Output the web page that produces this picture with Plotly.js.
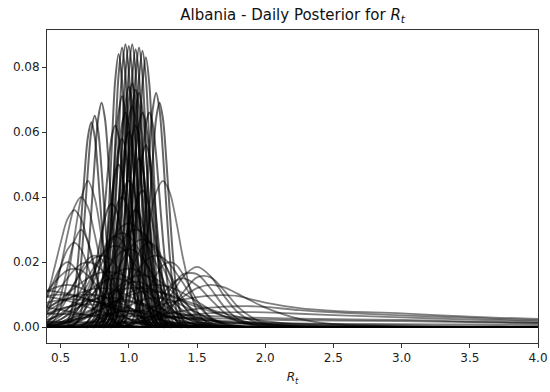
<!DOCTYPE html>
<html>
<head>
<meta charset="utf-8">
<script src="https://cdn.plot.ly/plotly-3.0.1.min.js"></script>
<style>
  body { margin: 0; background: #fff; }
  #plot { width: 550px; height: 392px; }
</style>
</head>
<body>
<div id="plot"></div>
<script>
// fine R_t grid for the narrow posteriors (0.55 .. 1.45, step 0.025)
var rtFine = [0.55,0.575,0.6,0.625,0.65,0.675,0.7,0.725,0.75,0.775,
              0.8,0.825,0.85,0.875,0.9,0.925,0.95,0.975,1.0,1.025,
              1.05,1.075,1.1,1.125,1.15,1.175,1.2,1.225,1.25,1.275,
              1.3,1.325,1.35,1.375,1.4,1.425,1.45];

// coarse R_t grid for the wide posteriors
var rt = [0.3,0.4,0.45,0.5,0.55,0.6,0.65,0.7,0.75,0.8,
          0.85,0.9,0.95,1.0,1.05,1.1,1.15,1.2,1.25,1.3,
          1.35,1.4,1.5,1.6,1.7,1.8,1.9,2.0,2.25,2.5,
          3.0,3.5,4.0,4.3];

// tallest posteriors (~0.085) on rtFine
var tall = [
  [0,0,0,0,0,0,0,.0001,.0005,.002, .0064,.0161,.0332,.0556,.0758,.084,.0758,.0556,.0332,.0161, .0064,.002,.0005,.0001,0,0,0,0,0,0, 0,0,0,0,0,0,0],
  [0,0,0,0,0,0,0,0,.0001,.0005, .0021,.0065,.0165,.034,.0569,.0776,.086,.0776,.0569,.034, .0165,.0065,.0021,.0005,.0001,0,0,0,0,0, 0,0,0,0,0,0,0],
  [0,0,0,0,0,0,0,0,0,.0001, .0005,.0021,.0066,.0167,.0344,.0576,.0785,.087,.0785,.0576, .0344,.0167,.0066,.0021,.0005,.0001,0,0,0,0, 0,0,0,0,0,0,0],
  [0,0,0,0,0,0,0,0,0,0, .0001,.0005,.0021,.0066,.0166,.0342,.0573,.078,.0865,.078, .0573,.0342,.0166,.0066,.0021,.0005,.0001,0,0,0, 0,0,0,0,0,0,0],
  [0,0,0,0,0,0,0,0,0,0, 0,.0001,.0005,.0021,.0066,.0167,.0344,.0576,.0785,.087, .0785,.0576,.0344,.0167,.0066,.0021,.0005,.0001,0,0, 0,0,0,0,0,0,0],
  [0,0,0,0,0,0,0,0,0,0, 0,0,.0001,.0005,.0021,.0065,.0164,.0338,.0566,.0771, .0855,.0771,.0566,.0338,.0164,.0065,.0021,.0005,.0001,0, 0,0,0,0,0,0,0],
  [0,0,0,0,0,0,0,0,0,0, 0,0,0,.0001,.0005,.0021,.0065,.0165,.034,.0569, .0776,.086,.0776,.0569,.034,.0165,.0065,.0021,.0005,.0001, 0,0,0,0,0,0,0],
  [0,0,0,0,0,0,0,0,0,0, 0,0,0,0,.0001,.0005,.002,.0065,.0163,.0336, .0563,.0767,.085,.0767,.0563,.0336,.0163,.0065,.002,.0005, .0001,0,0,0,0,0,0],
  [0,0,0,0,0,0,0,0,0,0, 0,0,0,0,0,.0001,.0005,.002,.0063,.0159, .0328,.0549,.0749,.083,.0749,.0549,.0328,.0159,.0063,.002, .0005,.0001,0,0,0,0,0]
];

// second level (~0.073) on rtFine
var upper = [
  [0,0,0,0,0,0,0,0,0,.0002, .0007,.002,.0052,.0117,.0226,.038,.0551,.0687,.074,.0687, .0551,.038,.0226,.0117,.0052,.002,.0007,.0002,0,0, 0,0,0,0,0,0,0],
  [0,0,0,0,0,0,0,0,0,0, 0,.0002,.0007,.002,.0051,.0115,.0223,.0375,.0543,.0678, .073,.0678,.0543,.0375,.0223,.0115,.0051,.002,.0007,.0002, 0,0,0,0,0,0,0],
  [0,0,0,0,0,0,0,.0002,.0006,.0019, .005,.0112,.0217,.0365,.0528,.066,.071,.066,.0528,.0365, .0217,.0112,.005,.0019,.0006,.0002,0,0,0,0, 0,0,0,0,0,0,0],
  [0,0,0,0,0,0,0,0,0,0, 0,0,.0002,.0006,.0019,.005,.0114,.022,.037,.0536, .0669,.072,.0669,.0536,.037,.022,.0114,.005,.0019,.0006, .0002,0,0,0,0,0,0],
  [0,0,0,0,0,0,0,0,0,0, .0002,.0007,.002,.0053,.0119,.023,.0386,.0558,.0697,.075, .0697,.0558,.0386,.023,.0119,.0053,.002,.0007,.0002,0, 0,0,0,0,0,0,0]
];

// side arches, left (~0.75) and right (~1.2), on rtFine
var side = [
  [.0017,.0044,.01,.0193,.0324,.0469,.0585,.063,.0585,.0469, .0324,.0193,.01,.0044,.0017,.0006,.0002,0,0,0, 0,0,0,0,0,0,0,0,0,0, 0,0,0,0,0,0,0],
  [.0006,.0018,.0046,.0103,.0199,.0334,.0484,.0604,.065,.0604, .0484,.0334,.0199,.0103,.0046,.0018,.0006,.0002,0,0, 0,0,0,0,0,0,0,0,0,0, 0,0,0,0,0,0,0],
  [0,.0002,.0006,.0019,.0048,.0109,.0211,.0355,.0513,.0641, .069,.0641,.0513,.0355,.0211,.0109,.0048,.0019,.0006,.0002, 0,0,0,0,0,0,0,0,0,0, 0,0,0,0,0,0,0],
  [0,0,0,0,0,0,0,0,0,0, 0,0,0,0,0,0,0,.0002,.0006,.0019, .005,.0114,.022,.037,.0536,.0669,.072,.0669,.0536,.037, .022,.0114,.005,.0019,.0006,.0002,0],
  [0,0,0,0,0,0,0,0,0,0, 0,0,0,0,0,0,0,0,.0002,.0006, .0019,.0048,.0109,.0211,.0355,.0513,.0641,.069,.0641,.0513, .0355,.0211,.0109,.0048,.0019,.0006,.0002]
];

// dense core between 0.85 and 1.2, on rtFine
var core = [
  [0,0,0,0,.0002,.0007,.0018,.0041,.0084,.0154, .0255,.0376,.0497,.0587,.062,.0587,.0497,.0376,.0255,.0154, .0084,.0041,.0018,.0007,.0002,0,0,0,0,0, 0,0,0,0,0,0,0],
  [0,0,0,0,0,0,.0002,.0006,.0017,.0038, .0078,.0144,.0238,.0352,.0465,.0549,.058,.0549,.0465,.0352, .0238,.0144,.0078,.0038,.0017,.0006,.0002,0,0,0, 0,0,0,0,0,0,0],
  [0,0,0,0,0,0,0,.0003,.0007,.0019, .0044,.0089,.0164,.0271,.0401,.0529,.0624,.066,.0624,.0529, .0401,.0271,.0164,.0089,.0044,.0019,.0007,.0003,0,0, 0,0,0,0,0,0,0],
  [0,0,0,0,0,0,0,0,.0002,.0007, .0017,.004,.0081,.0149,.0247,.0364,.0481,.0568,.06,.0568, .0481,.0364,.0247,.0149,.0081,.004,.0017,.0007,.0002,0, 0,0,0,0,0,0,0],
  [0,0,0,0,0,0,0,0,0,.0003, .0007,.002,.0045,.0092,.0169,.0279,.0413,.0545,.0643,.068, .0643,.0545,.0413,.0279,.0169,.0092,.0045,.002,.0007,.0003, 0,0,0,0,0,0,0],
  [0,0,0,0,0,0,0,0,0,0, .0002,.0007,.0018,.0041,.0084,.0154,.0255,.0376,.0497,.0587, .062,.0587,.0497,.0376,.0255,.0154,.0084,.0041,.0018,.0007, .0002,0,0,0,0,0,0],
  [0,0,0,0,0,0,0,0,0,0, 0,0,.0003,.0007,.0019,.0044,.0089,.0164,.0271,.0401, .0529,.0624,.066,.0624,.0529,.0401,.0271,.0164,.0089,.0044, .0019,.0007,.0003,0,0,0,0],
  [0,0,0,0,0,0,0,0,0,0, 0,0,0,.0002,.0006,.0016,.0037,.0076,.0139,.023, .034,.0449,.053,.056,.053,.0449,.034,.023,.0139,.0076, .0037,.0016,.0006,.0002,0,0,0],
  [0,0,0,0,0,0,0,0,0,0, 0,0,0,0,.0003,.0007,.0019,.0044,.0089,.0164, .0271,.0401,.0529,.0624,.066,.0624,.0529,.0401,.0271,.0164, .0089,.0044,.0019,.0007,.0003,0,0],
  [0,0,0,0,0,.0002,.0006,.0015,.0033,.0068, .0125,.0206,.0304,.0401,.0473,.05,.0473,.0401,.0304,.0206, .0125,.0068,.0033,.0015,.0006,.0002,0,0,0,0, 0,0,0,0,0,0,0],
  [0,0,0,0,0,0,0,0,0,0, 0,.0002,.0006,.0015,.0034,.007,.0129,.0214,.0316,.0417, .0492,.052,.0492,.0417,.0316,.0214,.0129,.007,.0034,.0015, .0006,.0002,0,0,0,0,0],
  [0,0,0,0,.0001,.0002,.0005,.001,.002,.0036, .0061,.0097,.0146,.0206,.0273,.034,.0397,.0436,.045,.0436, .0397,.034,.0273,.0206,.0146,.0097,.0061,.0036,.002,.001, .0005,.0002,.0001,0,0,0,0],
  [0,0,.0001,.0002,.0004,.0009,.0018,.0032,.0054,.0086, .013,.0183,.0243,.0302,.0353,.0388,.04,.0388,.0353,.0302, .0243,.0183,.013,.0086,.0054,.0032,.0018,.0009,.0004,.0002, .0001,0,0,0,0,0,0],
  [0,0,0,0,0,0,0,0,.0001,.0002, .0005,.001,.0018,.0034,.0057,.0091,.0137,.0192,.0255,.0317, .037,.0407,.042,.0407,.037,.0317,.0255,.0192,.0137,.0091, .0057,.0034,.0018,.001,.0005,.0002,.0001],
  [0,0,0,0,0,0,.0001,.0002,.0004,.0008, .0016,.0029,.0049,.0078,.0117,.0165,.0219,.0272,.0318,.0349, .036,.0349,.0318,.0272,.0219,.0165,.0117,.0078,.0049,.0029, .0016,.0008,.0004,.0002,.0001,0,0],
  [.0002,.0004,.0009,.0017,.003,.0051,.0082,.0124,.0174,.0231, .0287,.0335,.0368,.038,.0368,.0335,.0287,.0231,.0174,.0124, .0082,.0051,.003,.0017,.0009,.0004,.0002,.0001,0,0, 0,0,0,0,0,0,0]
];

// medium height posteriors on rt
var medium = [
  [.0006,.0044,.01,.0184,.0284,.0368,.04,.0368,.0284,.0184, .01,.0044,.0018,.0006,.0002,0,0,0,0,0, 0,0,0,0,0,0,0,0,0,0, 0,0,0,0],
  [.0046,.01,.0175,.0259,.0332,.036,.0332,.0259,.0175,.01, .0046,.0018,.0006,0,0,0,0,0,0,0, 0,0,0,0,0,0,0,0,0,0, 0,0,0,0],
  [0,0,0,0,0,0,0,0,0,0, 0,.0006,.002,.005,.0113,.0207,.032,.0414,.045,.0414, .032,.0207,.005,.0006,0,0,0,0,0,0, 0,0,0,0],
  [0,.0005,.002,.0061,.0144,.0275,.0396,.045,.0396,.0275, .0144,.0061,.002,.0005,0,0,0,0,0,0, 0,0,0,0,0,0,0,0,0,0, 0,0,0,0],
  [.0011,.0065,.012,.0185,.0239,.026,.0239,.0185,.012,.0065, .0029,.0011,.0004,.0001,0,0,0,0,0,0, 0,0,0,0,0,0,0,0,0,0, 0,0,0,0],
  [.0001,.0013,.0041,.0096,.0183,.0264,.03,.0264,.0183,.0096, .0041,.0013,.0003,.0001,0,0,0,0,0,0, 0,0,0,0,0,0,0,0,0,0, 0,0,0,0],
  [.0022,.0092,.0142,.0184,.02,.0184,.0142,.0092,.005,.0022, .0009,.0003,.0001,0,0,0,0,0,0,0, 0,0,0,0,0,0,0,0,0,0, 0,0,0,0]
];

// broad, lower posteriors on rt
var broad = [
  [.0001,.0004,.0007,.0014,.0026,.0043,.007,.0102,.0147,.0195, .024,.0282,.031,.032,.031,.0282,.024,.0195,.0147,.0102, .007,.0043,.002,.0008,.0003,.0001,0,0,0,0, 0,0,0,0],
  [.0001,.0006,.0013,.0023,.0039,.0064,.0093,.0133,.0177,.0218, .0255,.0281,.029,.0281,.0255,.0218,.0177,.0133,.0093,.0064, .0039,.0023,.0007,.0002,0,0,0,0,0,0, 0,0,0,0],
  [0,.0001,.0003,.0007,.0013,.0024,.004,.0066,.0096,.0138, .0183,.0225,.0264,.0291,.03,.0291,.0264,.0225,.0183,.0138, .0096,.0066,.0024,.0007,.0002,0,0,0,0,0, 0,0,0,0],
  [.0003,.0011,.002,.0034,.0055,.008,.0115,.0153,.0188,.022, .0243,.025,.0243,.022,.0188,.0153,.0115,.008,.0055,.0034, .002,.0011,.0003,0,0,0,0,0,0,0, 0,0,0,0],
  [0,0,0,.0003,.0006,.0012,.0022,.0036,.0059,.0086, .0124,.0165,.0203,.0238,.0262,.027,.0262,.0238,.0203,.0165, .0124,.0086,.0036,.0012,.0003,0,0,0,0,0, 0,0,0,0],
  [.001,.003,.0048,.007,.0101,.0134,.0165,.0194,.0213,.022, .0213,.0194,.0165,.0134,.0101,.007,.0048,.003,.0018,.001, .0005,.0002,0,0,0,0,0,0,0,0, 0,0,0,0],
  [0,0,0,0,0,0,.0005,.001,.0018,.003, .0048,.007,.0101,.0134,.0165,.0194,.0213,.022,.0213,.0194, .0165,.0134,.007,.003,.001,.0003,0,0,0,0, 0,0,0,0],
  [.0027,.0064,.0092,.0122,.015,.0176,.0194,.02,.0194,.0176, .015,.0122,.0092,.0064,.0044,.0027,.0016,.0009,.0004,.0002, 0,0,0,0,0,0,0,0,0,0, 0,0,0,0],
  [.0058,.011,.0135,.0158,.0175,.018,.0175,.0158,.0135,.011, .0083,.0058,.004,.0024,.0014,.0008,.0004,.0002,0,0, 0,0,0,0,0,0,0,0,0,0, 0,0,0,0],
  [.0079,.0109,.012,.0127,.013,.0127,.012,.0109,.0094,.0079, .0063,.0049,.0036,.0026,.0017,.0011,.0007,.0004,.0003,.0001, 0,0,0,0,0,0,0,0,0,0, 0,0,0,0],
  [.0032,.0055,.007,.0086,.0103,.012,.0136,.015,.0161,.0168, .017,.0168,.0161,.015,.0136,.012,.0103,.0086,.007,.0055, .0043,.0032,.0016,.0008,.0003,.0001,0,0,0,0, 0,0,0,0],
  [0,.0001,.0003,.0008,.0018,.0038,.007,.0115,.0171,.0224, .0266,.028,.0266,.0224,.0171,.0115,.007,.0038,.0018,.0008, .0003,.0001,0,0,0,0,0,0,0,0, 0,0,0,0],
  [0,0,0,0,0,0,0,.0003,.0008,.0017, .0035,.0065,.0107,.0159,.0208,.0247,.026,.0247,.0208,.0159, .0107,.0065,.0017,.0003,0,0,0,0,0,0, 0,0,0,0],
  [.0002,.0015,.003,.0055,.009,.0134,.0176,.0209,.022,.0209, .0176,.0134,.009,.0055,.003,.0015,.0006,.0002,0,0, 0,0,0,0,0,0,0,0,0,0, 0,0,0,0],
  [0,0,0,0,0,0,0,0,0,0, 0,.0006,.0013,.0027,.005,.0082,.0122,.016,.019,.02, .019,.016,.0082,.0027,.0006,.0001,0,0,0,0, 0,0,0,0]
];

// low, wide posteriors under the core on rt
var low = [
  [.0002,.001,.0016,.0024,.0036,.005,.0068,.0088,.0109,.0131, .015,.0166,.0176,.018,.0176,.0166,.015,.0131,.0109,.0088, .0068,.005,.003,.0014,.0005,.0002,0,0,0,0, 0,0,0,0],
  [.0008,.002,.003,.0042,.0056,.0073,.0091,.0109,.0125,.0138, .0147,.015,.0147,.0138,.0125,.0109,.0091,.0073,.0056,.0042, .003,.002,.0008,.0003,.0001,0,0,0,0,0, 0,0,0,0],
  [0,.0003,.0005,.0009,.0014,.0022,.0032,.0045,.006,.0078, .0097,.0116,.0134,.0148,.0157,.016,.0157,.0148,.0134,.0116, .0097,.0078,.0045,.0022,.0009,.0003,.0001,0,0,0, 0,0,0,0],
  [.003,.0049,.0061,.0073,.0085,.0096,.0106,.0114,.0118,.012, .0118,.0114,.0106,.0096,.0085,.0073,.0061,.0049,.0039,.003, .0022,.0016,.0008,.0003,.0001,0,0,0,0,0, 0,0,0,0],
  [.0001,.0004,.0006,.0009,.0012,.0018,.0024,.0033,.0042,.0053, .0066,.0079,.0092,.0104,.0115,.0123,.0128,.013,.0128,.0123, .0115,.0104,.0079,.0053,.0033,.0018,.0009,.0004,.0001,0, 0,0,0,0],
  [0,.0003,.0005,.0011,.0019,.0032,.0053,.0077,.011,.0146, .018,.0211,.0233,.024,.0233,.0211,.018,.0146,.011,.0077, .0053,.0032,.0015,.0005,.0002,0,0,0,0,0, 0,0,0,0],
  [.0002,.0005,.0007,.0011,.0015,.0021,.0028,.0036,.0045,.0056, .0067,.0078,.0088,.0097,.0104,.0108,.011,.0108,.0104,.0097, .0088,.0078,.0062,.0048,.0033,.0022,.0014,.0009,.0003,.0001, 0,0,0,0],
  [.0041,.0061,.0071,.008,.0088,.0095,.0099,.01,.0099,.0095, .0088,.008,.0071,.0061,.0051,.0041,.0033,.0025,.0019,.0013, .001,.0007,.0003,.0001,0,0,0,0,0,0, 0,0,0,0],
  [0,0,.0002,.0003,.0006,.0011,.0019,.0031,.0045,.0064, .0085,.0105,.0123,.0136,.014,.0136,.0123,.0105,.0085,.0064, .0045,.0031,.0011,.0003,.0001,0,0,0,0,0, 0,0,0,0],
  [.0002,.0007,.0011,.0016,.0022,.003,.0039,.0049,.0058,.0067, .0074,.0078,.008,.0078,.0074,.0067,.0058,.0049,.0039,.003, .0022,.0016,.0007,.0003,.0001,0,0,0,0,0, 0,0,0,0],
  [0,0,0,.0002,.0003,.0005,.0008,.0012,.0018,.0025, .0034,.0044,.0055,.0065,.0075,.0083,.0088,.009,.0088,.0083, .0075,.0065,.0044,.0025,.0012,.0005,.0002,0,0,0, 0,0,0,0],
  [.0029,.0042,.005,.0056,.0062,.0066,.0069,.007,.0069,.0066, .0062,.0056,.005,.0042,.0035,.0029,.0023,.0017,.0013,.0009, .0007,.0005,.0002,.0001,0,0,0,0,0,0, 0,0,0,0],
  [0,.0001,.0001,.0002,.0004,.0007,.0011,.0016,.0023,.0031, .0038,.0044,.0049,.005,.0049,.0044,.0038,.0031,.0023,.0016, .0011,.0007,.0002,.0001,0,0,0,0,0,0, 0,0,0,0]
];

// bump near 1.5 on rt
var bump = [
  [0,0,0,0,0,0,0,0,0,0, 0,0,0,.0002,.0006,.0012,.0022,.0039,.0063,.0093, .0125,.0156,.0185,.0156,.0095,.0045,.002,.0009,.0002,0, 0,0,0,0],
  [0,0,0,0,0,0,0,0,0,0, 0,0,.0002,.0005,.0011,.002,.0036,.0058,.0085,.0115, .0143,.0163,.0163,.0118,.0062,.0025,.001,.0004,0,0, 0,0,0,0],
  [0,0,0,0,0,0,0,0,0,0, 0,0,0,0,.0002,.0005,.001,.0019,.0034,.0054, .008,.0108,.0153,.0153,.0112,.0062,.003,.0012,.0003,.0001, 0,0,0,0],
  [0,0,0,0,0,0,0,0,0,0, 0,.0002,.0004,.0007,.0012,.0018,.0026,.0036,.0049,.0063, .0079,.0094,.012,.013,.0122,.0102,.008,.006,.0025,.0009, .0002,0,0,0],
  [0,0,0,0,0,0,0,0,0,0, 0,.0002,.0004,.0009,.0018,.0032,.0051,.0075,.0102,.0126, .0144,.015,.0128,.0085,.0045,.0018,.0006,.0002,0,0, 0,0,0,0]
];

// flat, wide posteriors with long tails on rt
var flat = [
  [.011,.0112,.011,.0107,.0103,.0098,.0092,.0086,.008,.0074, .0068,.0062,.0057,.0052,.0048,.0044,.004,.0037,.0034,.0031, .0029,.0027,.0024,.0021,.0019,.0017,.0015,.0014,.001,.0008, .0005,.0003,.0002,.0001],
  [.0095,.0093,.009,.0086,.0081,.0075,.0068,.0061,.0054,.0047, .0041,.0035,.003,.0025,.0021,.0018,.0015,.0012,.001,.0008, .0007,.0006,.0004,.0003,.0002,.0002,.0001,.0001,0,0, 0,0,0,0],
  [.0085,.0095,.0099,.01,.0099,.0096,.0091,.0085,.0078,.0071, .0064,.0057,.005,.0044,.0038,.0033,.0028,.0024,.002,.0017, .0014,.0012,.0008,.0005,.0003,.0002,.0001,.0001,0,0, 0,0,0,0],
  [.0065,.0075,.008,.0083,.0085,.0085,.0084,.0082,.0079,.0075, .0071,.0067,.0062,.0058,.0053,.0049,.0045,.0041,.0037,.0034, .0031,.0028,.0023,.0019,.0016,.0013,.0011,.0009,.0005,.0003, .0001,0,0,0],
  [.0025,.0039,.0046,.0054,.0061,.0068,.0075,.0081,.0086,.0089, .009,.0089,.0086,.0082,.0077,.0072,.0066,.006,.0054,.0048, .0043,.0038,.0029,.0021,.0015,.0011,.0008,.0006,.0002,.0001, 0,0,0,0],
  [.0013,.0023,.003,.0037,.0046,.0055,.0065,.0075,.0085,.0095, .0103,.011,.0116,.012,.0121,.012,.0117,.0112,.0106,.0099, .0091,.0083,.0068,.0054,.0042,.0032,.0024,.0018,.0008,.0004, .0001,0,0,0],
  [0,0,.0001,.0002,.0003,.0005,.0007,.001,.0014,.0018, .0023,.0028,.0034,.004,.0046,.0052,.0058,.0064,.007,.0075, .008,.0085,.0092,.0097,.0098,.0095,.0085,.0075,.0058,.005, .0042,.0032,.0025,.0022],
  [0,0,0,0,0,.0001,.0002,.0003,.0005,.0007, .0009,.0012,.0015,.0019,.0023,.0027,.0031,.0035,.0039,.0043, .0047,.005,.0056,.006,.0063,.0064,.0064,.0062,.0052,.0045, .0036,.0028,.0021,.0018],
  [0,0,0,0,0,0,.0001,.0002,.0003,.0004, .0006,.0008,.001,.0012,.0015,.0018,.0021,.0024,.0027,.003, .0033,.0035,.004,.0043,.0045,.0046,.0046,.0045,.0041,.0037, .003,.0023,.0017,.0014],
  [.0042,.0041,.0041,.004,.004,.0039,.0039,.0038,.0037,.0037, .0036,.0035,.0035,.0034,.0033,.0033,.0032,.0031,.0031,.003, .0029,.0029,.0028,.0027,.0026,.0025,.0024,.0023,.0021,.002, .0018,.0015,.0012,.0011],
  [.0016,.0016,.0016,.0016,.0016,.0015,.0015,.0015,.0015,.0015, .0015,.0015,.0014,.0014,.0014,.0014,.0014,.0014,.0013,.0013, .0013,.0013,.0013,.0012,.0012,.0012,.0012,.0011,.0011,.001, .0009,.0008,.0007,.0007],
  [.0065,.006,.0057,.0053,.0049,.0045,.004,.0036,.0032,.0028, .0024,.0021,.0018,.0015,.0013,.0011,.0009,.0008,.0007,.0006, .0005,.0004,.0003,.0002,.0002,.0001,.0001,0,0,0, 0,0,0,0],
  [.0005,.0009,.0012,.0015,.0019,.0023,.0027,.0031,.0035,.0039, .0043,.0046,.0048,.005,.005,.005,.0049,.0047,.0045,.0043, .0041,.0039,.0036,.0034,.0032,.003,.0029,.0028,.0026,.0024, .0022,.0017,.0013,.0011]
];

// narrow curves are drawn a little heavier so the core closes up as in the original
var fineLine = {color: 'rgba(0,0,0,0.6)', width: 2, shape: 'spline', smoothing: 0.9};
var wideLine = {color: 'rgba(0,0,0,0.5)', width: 1.8, shape: 'spline', smoothing: 0.9};

function toTrace(xs, style) {
  return function (y) {
    return {x: xs, y: y, mode: 'lines', type: 'scatter', hoverinfo: 'skip', line: style};
  };
}

var fineCurves = tall.concat(upper, side, core);
var wideCurves = medium.concat(broad, low, bump, flat);

var data = wideCurves.map(toTrace(rt, wideLine)).concat(fineCurves.map(toTrace(rtFine, fineLine)));

var axisFont = {family: 'DejaVu Sans, sans-serif', size: 12, color: '#222'};

var layout = {
  width: 550,
  height: 392,
  margin: {l: 47, r: 12, t: 30, b: 49},
  paper_bgcolor: '#fff',
  plot_bgcolor: '#fff',
  showlegend: false,
  title: {
    text: 'Albania - Daily Posterior for <i>R</i><sub><i>t</i></sub>',
    font: {family: 'DejaVu Sans, sans-serif', size: 15, color: '#111'},
    x: 0.532, xanchor: 'center',
    y: 0.963, yanchor: 'middle'
  },
  xaxis: {
    range: [0.4, 4.0],
    tickvals: [0.5, 1.0, 1.5, 2.0, 2.5, 3.0, 3.5, 4.0],
    ticktext: ['0.5', '1.0', '1.5', '2.0', '2.5', '3.0', '3.5', '4.0'],
    ticks: 'outside', ticklen: 4, tickwidth: 1, tickcolor: '#333',
    showline: true, mirror: true, linecolor: '#333', linewidth: 1,
    showgrid: false, zeroline: false,
    tickfont: axisFont,
    title: {text: '<i>R</i><sub><i>t</i></sub>', font: {family: 'DejaVu Sans, sans-serif', size: 12, color: '#222'}, standoff: 8}
  },
  yaxis: {
    range: [-0.0049, 0.0914],
    tickvals: [0, 0.02, 0.04, 0.06, 0.08],
    ticktext: ['0.00', '0.02', '0.04', '0.06', '0.08'],
    ticks: 'outside', ticklen: 4, tickwidth: 1, tickcolor: '#333',
    showline: true, mirror: true, linecolor: '#333', linewidth: 1,
    showgrid: false, zeroline: false,
    tickfont: axisFont
  }
};

Plotly.newPlot('plot', data, layout, {staticPlot: true});
</script>
</body>
</html>
